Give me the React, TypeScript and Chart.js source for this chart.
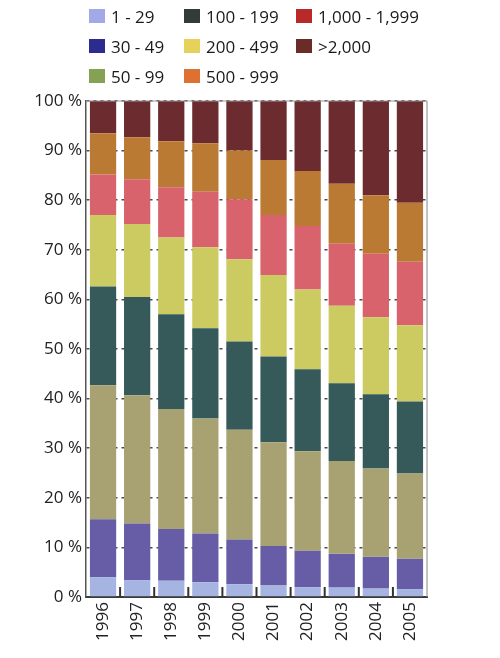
import React, { useEffect, useRef } from "react";
import { Chart, registerables } from "chart.js";

Chart.register(...registerables);

const years = ["1996", "1997", "1998", "1999", "2000", "2001", "2002", "2003", "2004", "2005"];
const seriesLabels = ["1 - 29", "30 - 49", "50 - 99", "100 - 199", "200 - 499", "500 - 999", "1,000 - 1,999", ">2,000"];

const s1to29 = [4.0, 3.4, 3.3, 3.0, 2.6, 2.3, 2.0, 1.9, 1.7, 1.6];
const s30to49 = [11.7, 11.4, 10.4, 9.8, 9.0, 8.0, 7.3, 6.8, 6.4, 6.1];
const s50to99 = [27.0, 25.9, 24.2, 23.2, 22.1, 20.9, 20.1, 18.7, 17.8, 17.2];
const s100to199 = [19.9, 19.8, 19.1, 18.2, 17.8, 17.3, 16.5, 15.7, 15.0, 14.5];
const s200to499 = [14.4, 14.7, 15.5, 16.3, 16.6, 16.4, 16.1, 15.6, 15.5, 15.4];
const s500to999 = [8.2, 9.0, 10.1, 11.2, 12.1, 12.1, 12.8, 12.5, 12.8, 12.8];
const s1000to1999 = [8.3, 8.5, 9.3, 9.8, 9.8, 11.1, 11.1, 12.1, 11.8, 11.9];
const s2000plus = [6.5, 7.3, 8.1, 8.5, 10.0, 11.9, 14.1, 16.7, 19.0, 20.5];

const seriesValues = [s1to29, s30to49, s50to99, s100to199, s200to499, s500to999, s1000to1999, s2000plus];
const barColors = ["#a6b4e2", "#675da6", "#a8a272", "#365a5a", "#cbcb62", "#d8636c", "#bb7a34", "#6c2b2f"];
const legendColors = ["#a3a9e6", "#2c2b8e", "#84a154", "#323a3a", "#e6d25a", "#de7032", "#b82a2a", "#6a2b29"];
const yTicks = [0, 10, 20, 30, 40, 50, 60, 70, 80, 90, 100];

const FONT = "'Open Sans', sans-serif";

const framePlugin = {
  id: "frame",
  afterDatasetsDraw(chart: any) {
    const { ctx, chartArea } = chart;
    const x = chart.scales.x;
    ctx.save();
    ctx.strokeStyle = "#9a9a9a";
    ctx.lineWidth = 1.2;
    ctx.beginPath();
    ctx.moveTo(chartArea.left, chartArea.top);
    ctx.lineTo(chartArea.right, chartArea.top);
    ctx.lineTo(chartArea.right, chartArea.bottom);
    ctx.stroke();
    const step = x.getPixelForValue(1) - x.getPixelForValue(0);
    ctx.strokeStyle = "#333";
    ctx.lineWidth = 2;
    for (let i = 1; i < years.length; i++) {
      const px = x.getPixelForValue(i) - step / 2;
      ctx.beginPath();
      ctx.moveTo(px, chartArea.bottom);
      ctx.lineTo(px, chartArea.bottom - 10);
      ctx.stroke();
    }
    ctx.restore();
  },
};

function App() {
  const ref = useRef<HTMLCanvasElement | null>(null);
  useEffect(() => {
    if (!ref.current) return;
    const chart = new Chart(ref.current, {
      type: "bar",
      data: {
        labels: years,
        datasets: seriesLabels.map((label, i) => ({
          label,
          data: seriesValues[i],
          backgroundColor: barColors[i],
          borderWidth: 0,
          barPercentage: 0.77,
          categoryPercentage: 1,
        })),
      },
      options: {
        responsive: false,
        animation: false,
        layout: { padding: { left: 0, top: 101, right: 73, bottom: 0 } },
        plugins: { legend: { display: false }, tooltip: { enabled: false } },
        scales: {
          x: {
            stacked: true,
            grid: { display: false, drawTicks: false },
            border: { display: true, color: "#3a3a3a", width: 2 },
            ticks: {
              color: "#222",
              font: { family: FONT, size: 17 },
              minRotation: 90,
              maxRotation: 90,
              padding: 5,
              autoSkip: false,
            },
            afterFit(scale: any) {
              scale.height = 61;
            },
          },
          y: {
            stacked: true,
            min: 0,
            max: 100,
            afterBuildTicks(scale: any) {
              scale.ticks = yTicks.map((v) => ({ value: v }));
            },
            grid: {
              color: "#4a4a4a",
              lineWidth: 1.5,
              drawTicks: false,
            },
            border: { display: true, color: "#555", width: 1.5, dash: [3, 4] },
            ticks: {
              color: "#222",
              font: { family: FONT, size: 17 },
              padding: 4,
              callback: (v: any) => v + " %",
            },
            afterFit(scale: any) {
              scale.width = 86;
            },
          },
        },
      },
      plugins: [framePlugin],
    } as any);
    return () => chart.destroy();
  }, []);

  return (
    <div style={{ position: "absolute", left: 0, top: 0, width: 500, height: 658, background: "#fff", fontFamily: FONT }}>
      <canvas ref={ref} width={500} height={658} style={{ position: "absolute", left: 0, top: 0 }} />
      {seriesLabels.map((label, i) => {
        const col = Math.floor(i / 3);
        const row = i % 3;
        const colX = [89, 184, 296][col];
        const rowY = [16, 46, 76][row];
        return (
          <div
            key={label}
            style={{
              position: "absolute",
              left: colX,
              top: rowY - 12,
              height: 24,
              display: "flex",
              alignItems: "center",
              whiteSpace: "nowrap",
              fontSize: 17,
              color: "#1a1a1a",
            }}
          >
            <span style={{ display: "inline-block", width: 16, height: 14, background: legendColors[i], marginRight: 6 }} />
            <span>{label}</span>
          </div>
        );
      })}
    </div>
  );
}

export default App;
